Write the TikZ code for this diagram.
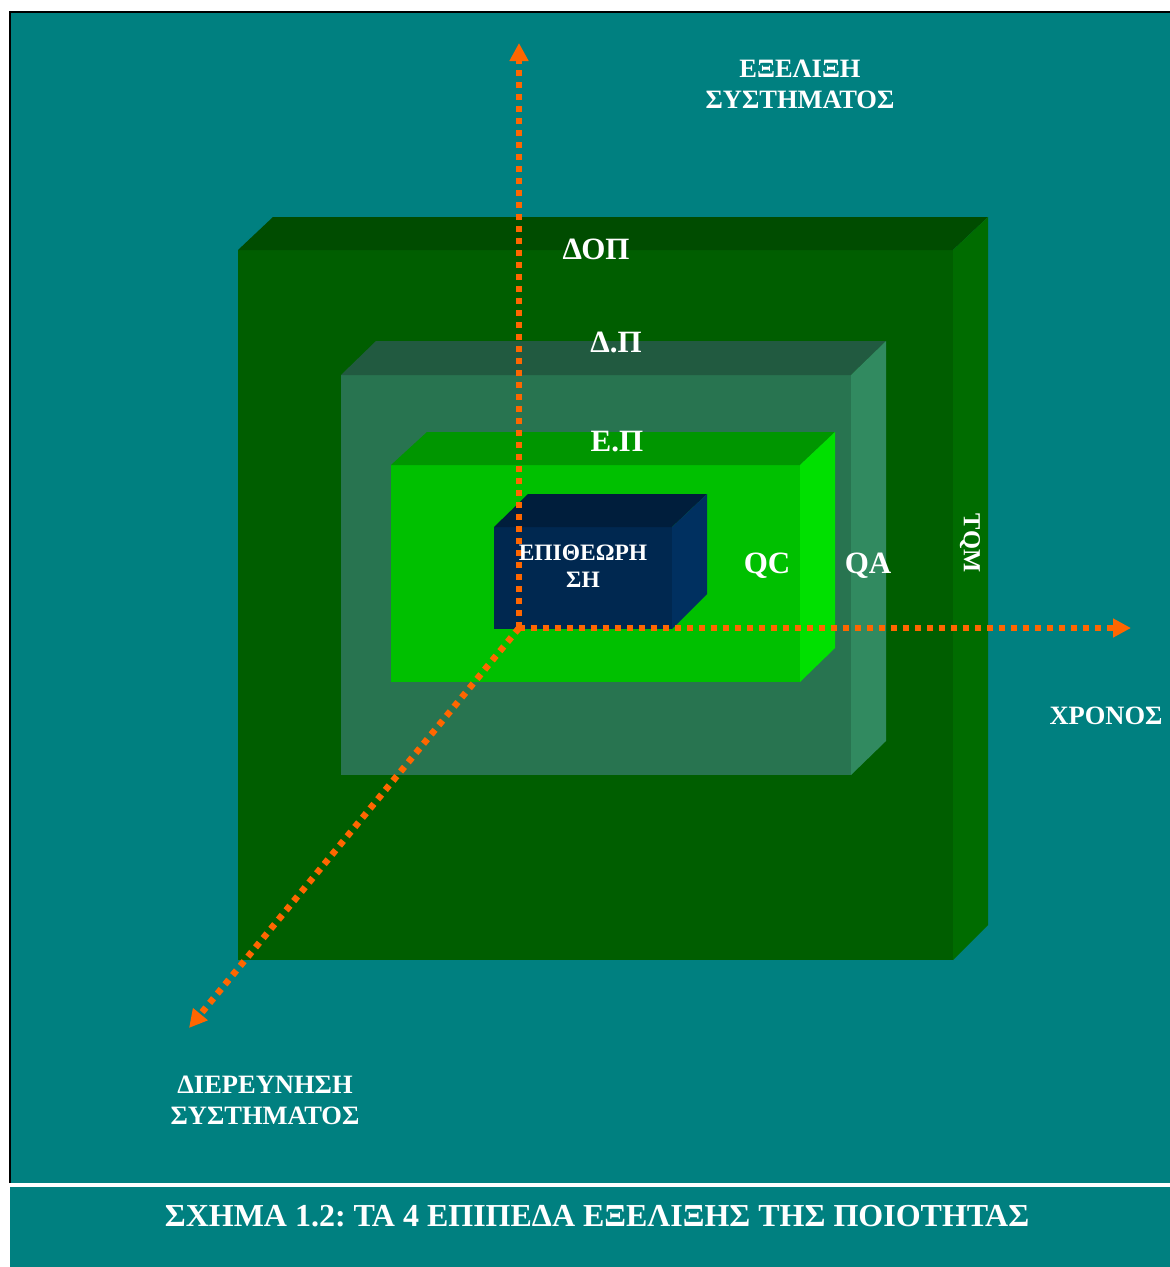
\documentclass[tikz,border=0pt]{standalone}
\usepackage{fontspec}
\setmainfont{Liberation Serif}
\usetikzlibrary{arrows.meta}
\frenchspacing
\definecolor{bgteal}{RGB}{0,128,128}
\definecolor{axisor}{RGB}{255,102,0}
\definecolor{oFront}{RGB}{0,94,0}
\definecolor{oTop}{RGB}{0,76,0}
\definecolor{oSide}{RGB}{0,108,0}
\definecolor{mFront}{RGB}{40,116,80}
\definecolor{mTop}{RGB}{33,90,64}
\definecolor{mSide}{RGB}{49,138,96}
\definecolor{iFront}{RGB}{0,192,0}
\definecolor{iTop}{RGB}{0,150,0}
\definecolor{iSide}{RGB}{0,224,0}
\definecolor{bFront}{RGB}{0,40,80}
\definecolor{bTop}{RGB}{0,30,60}
\definecolor{bSide}{RGB}{0,48,96}
\begin{document}
\begin{tikzpicture}[x=1pt,y=-1pt,
  lbl/.style={text=white,font=\bfseries\fontsize{26.5}{31}\selectfont,inner sep=0pt,align=center},
  biglbl/.style={text=white,font=\bfseries\fontsize{31}{36}\selectfont,inner sep=0pt,align=center},
  axisline/.style={draw=axisor,line width=6.5pt,dash pattern=on 6pt off 6pt,
    -{Triangle[length=18pt,width=18pt]}}]
\useasboundingbox (0,0) rectangle (1170,1267);
\fill[white] (0,0) rectangle (1170,1267);
% main panel
\fill[bgteal] (10,12) rectangle (1170,1183);
\draw[black,line width=2pt] (10,1183) -- (10,12) -- (1170,12);
% caption panel
\fill[bgteal] (10,1187) rectangle (1170,1267);
% outer box (TQM)
\fill[oFront] (238,250) rectangle (953,960);
\fill[oTop] (238,250) -- (273,217) -- (988,217) -- (953,250) -- cycle;
\fill[oSide] (953,250) -- (988,217) -- (988,925) -- (953,960) -- cycle;
% middle box (QA)
\fill[mFront] (341,375) rectangle (851,775);
\fill[mTop] (341,375) -- (376,341) -- (886,341) -- (851,375) -- cycle;
\fill[mSide] (851,375) -- (886,341) -- (886,741) -- (851,775) -- cycle;
% inner box (QC)
\fill[iFront] (391,465) rectangle (800,682);
\fill[iTop] (391,465) -- (427,432) -- (835,432) -- (800,465) -- cycle;
\fill[iSide] (800,465) -- (835,432) -- (835,648) -- (800,682) -- cycle;
% blue box
\fill[bFront] (494,527) rectangle (672,629);
\fill[bTop] (494,527) -- (528,494) -- (707,494) -- (672,527) -- cycle;
\fill[bSide] (672,527) -- (707,494) -- (707,594) -- (672,629) -- cycle;
% axes
\coordinate (O) at (519,628);
\coordinate (up) at (519,43);
\coordinate (right) at (1131,628);
\coordinate (down) at (189,1028);
\draw[axisline] (O) -- (up);
\draw[axisline] (O) -- (right);
\draw[axisline] (O) -- (down);
% labels
\node[lbl] (evol) at (800,84) {ΕΞΕΛΙΞΗ\\ΣΥΣΤΗΜΑΤΟΣ};
\node[biglbl] (dop) at (596,249) {ΔΟΠ};
\node[biglbl] (dp) at (616,342) {Δ.Π};
\node[biglbl] (ep) at (617,442) {Ε.Π};
\node[text=white,font=\bfseries\fontsize{23.5}{27}\selectfont,inner sep=0pt,align=center] (insp) at (583,566) {ΕΠΙΘΕΩΡΗ\\ΣΗ};
\node[biglbl] (qc) at (767,566) {QC};
\node[biglbl] (qa) at (868,566) {QA};
\node[text=white,font=\bfseries\fontsize{24.5}{30}\selectfont,inner sep=0pt,rotate=-90] (tqm) at (970,543) {TQM};
\node[lbl] (time) at (1106,716) {ΧΡΟΝΟΣ};
\node[lbl] (dier) at (265,1100) {ΔΙΕΡΕΥΝΗΣΗ\\ΣΥΣΤΗΜΑΤΟΣ};
\node[text=white,font=\bfseries\fontsize{32}{38}\selectfont,inner sep=0pt] (cap) at (597,1216) {ΣΧΗΜΑ 1.2: ΤΑ 4 ΕΠΙΠΕΔΑ ΕΞΕΛΙΞΗΣ ΤΗΣ ΠΟΙΟΤΗΤΑΣ};
\end{tikzpicture}
\end{document}
